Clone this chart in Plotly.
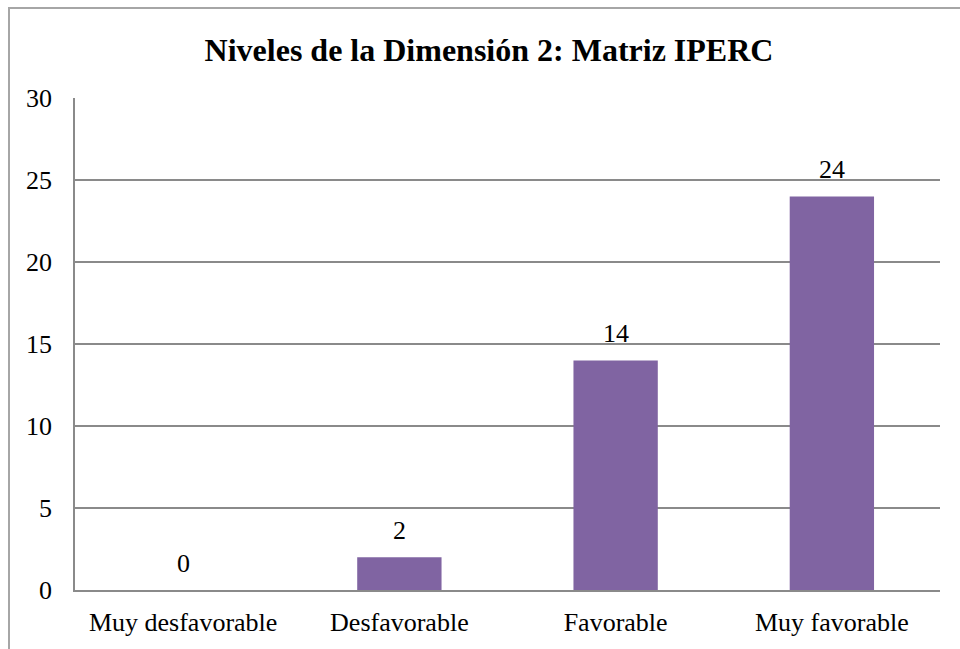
import plotly.graph_objects as go

categories = ["Muy desfavorable", "Desfavorable", "Favorable", "Muy favorable"]
values = [0, 2, 14, 24]
y_ticks = [0, 5, 10, 15, 20, 25, 30]
title_text = "<b>Niveles de la Dimensión 2: Matriz IPERC</b>"

FONT = "Liberation Serif, Times New Roman, serif"
GRID = "#8a8a8a"

fig = go.Figure()
fig.add_trace(go.Bar(
    x=categories, y=values,
    marker=dict(color="#8064A2", line=dict(width=0)),
    width=0.39,
    hoverinfo="skip",
))

for c, v in zip(categories, values):
    fig.add_annotation(x=c, y=v, text=str(v), showarrow=False,
                       yanchor="bottom", yshift=10,
                       font=dict(family=FONT, size=26, color="#000000"))

# outer chart border
fig.add_shape(type="rect", xref="paper", yref="paper",
              x0=(9 - 75) / 865, x1=(966 - 75) / 865,
              y0=(590 - 660) / 492, y1=(590 - 8) / 492,
              line=dict(color="#a6a6a6", width=2), fillcolor="rgba(0,0,0,0)",
              layer="below")

fig.update_layout(
    width=960, height=649,
    margin=dict(l=75, r=20, t=98, b=59),
    paper_bgcolor="white", plot_bgcolor="white",
    showlegend=False,
    title=dict(text=title_text, x=489 / 960, xanchor="center",
               y=1 - 50 / 649, yanchor="middle", xref="container", yref="container",
               font=dict(family=FONT, size=32, color="#000000")),
    font=dict(family=FONT, size=26, color="#000000"),
    bargap=0.61,
)
fig.update_yaxes(range=[0, 30], tickvals=y_ticks, showgrid=True, gridcolor=GRID,
                 gridwidth=1.5, showline=True, linecolor=GRID, linewidth=1.5,
                 ticks="", zeroline=False, ticklabelstandoff=16,
                 tickfont=dict(family=FONT, size=26, color="#000000"))
fig.update_xaxes(showline=True, linecolor=GRID, linewidth=1.5, ticks="",
                 showgrid=False, ticklabelstandoff=8,
                 tickfont=dict(family=FONT, size=26, color="#000000"))

fig.write_html("out.html", config={"displayModeBar": False},
               post_script="document.body.style.margin='0';document.body.style.overflow='hidden';")
